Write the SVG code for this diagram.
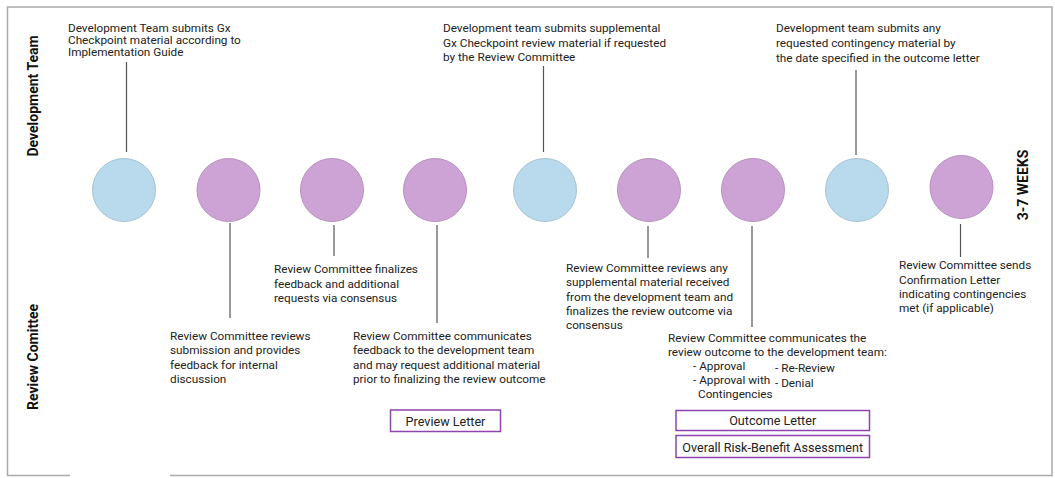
<svg xmlns="http://www.w3.org/2000/svg" width="1055" height="478" viewBox="0 0 1055 478">
<style>
text{font-family:Roboto,"Liberation Sans",sans-serif;font-size:11.75px;fill:#222}
.lane{font-weight:bold;font-size:14px;fill:#111}
.bt{font-size:12.6px}
.blue{fill:#B9DAEC;stroke:#A6C3D4;stroke-width:1}
.purple{fill:#CDA3D5;stroke:#B592BD;stroke-width:1}
.conn{stroke:#555;stroke-width:1.2;fill:none}
.box{fill:#fff;stroke:#8E44AD;stroke-width:1.5}
.frame{fill:none;stroke:#AAA;stroke-width:1.5}
</style>
<rect width="1055" height="478" fill="#fff"/>
<path class="frame" d="M70,475.5 H7.5 V7 H1052 V475.5 H170"/>
<g id="lane-dev"><text class="lane" transform="translate(38,96) rotate(-90)" text-anchor="middle">Development Team</text></g>
<g id="lane-rc"><text class="lane" transform="translate(38,357) rotate(-90)" text-anchor="middle">Review Comittee</text></g>
<g id="duration"><text class="lane" transform="translate(1028,185) rotate(-90)" text-anchor="middle">3-7 WEEKS</text></g>
<g id="connectors">
<line class="conn" x1="126.5" y1="62" x2="126.5" y2="152"/>
<line class="conn" x1="543.5" y1="66" x2="543.5" y2="152"/>
<line class="conn" x1="856" y1="70" x2="856" y2="155"/>
<line class="conn" x1="230" y1="223" x2="230" y2="318"/>
<line class="conn" x1="334" y1="225" x2="334" y2="256"/>
<line class="conn" x1="437" y1="225" x2="437" y2="323"/>
<line class="conn" x1="648" y1="226" x2="648" y2="258"/>
<line class="conn" x1="752" y1="226" x2="752" y2="327"/>
<line class="conn" x1="960.5" y1="224" x2="960.5" y2="257"/>
</g>
<g id="n1"><circle class="blue" cx="124" cy="190" r="31.5"/>
<text x="68" y="32">Development Team submits Gx</text><text x="68" y="44">Checkpoint material according to</text><text x="68" y="56">Implementation Guide</text></g>
<g id="n2"><circle class="purple" cx="228.5" cy="190" r="31.5"/>
<text x="170" y="340">Review Committee reviews</text><text x="170" y="354.3">submission and provides</text><text x="170" y="368.6">feedback for internal</text><text x="170" y="383">discussion</text></g>
<g id="n3"><circle class="purple" cx="332" cy="190" r="31.5"/>
<text x="274" y="273">Review Committee finalizes</text><text x="274" y="287.5">feedback and additional</text><text x="274" y="302">requests via consensus</text></g>
<g id="n4"><circle class="purple" cx="435" cy="190" r="31.5"/>
<text x="353" y="340">Review Committee communicates</text><text x="353" y="354.3">feedback to the development team</text><text x="353" y="368.6">and may request additional material</text><text x="353" y="383">prior to finalizing the review outcome</text></g>
<g id="preview-letter"><rect class="box" x="390.5" y="410" width="110" height="21.5"/>
<text class="bt" x="445.5" y="425.5" text-anchor="middle">Preview Letter</text></g>
<g id="n5"><circle class="blue" cx="545" cy="190" r="31.5"/>
<text x="443" y="32">Development team submits supplemental</text><text x="443" y="46.5">Gx Checkpoint review material if requested</text><text x="443" y="61">by the Review Committee</text></g>
<g id="n6"><circle class="purple" cx="649" cy="190" r="31.5"/>
<text x="566" y="272">Review Committee reviews any</text><text x="566" y="286.3">supplemental material received</text><text x="566" y="300.6">from the development team and</text><text x="566" y="315">finalizes the review outcome via</text><text x="566" y="329.3">consensus</text></g>
<g id="n7"><circle class="purple" cx="753" cy="190" r="31.5"/>
<text x="668" y="341.5">Review Committee communicates the</text><text x="668" y="355.7">review outcome to the development team:</text>
<text x="693" y="370">- Approval</text><text x="693" y="384">- Approval with</text><text x="698" y="398">Contingencies</text>
<text x="775" y="371.5">- Re-Review</text><text x="775" y="386.5">- Denial</text></g>
<g id="outcome-letter"><rect class="box" x="676" y="410.5" width="193.5" height="20"/>
<text class="bt" x="772.7" y="424.5" text-anchor="middle">Outcome Letter</text></g>
<g id="risk-benefit"><rect class="box" x="676" y="435.5" width="193.5" height="22"/>
<text class="bt" x="772.7" y="451.5" text-anchor="middle">Overall Risk-Benefit Assessment</text></g>
<g id="n8"><circle class="blue" cx="857" cy="190" r="31.5"/>
<text x="776" y="32">Development team submits any</text><text x="776" y="47">requested contingency material by</text><text x="776" y="61.5">the date specified in the outcome letter</text></g>
<g id="n9"><circle class="purple" cx="961.5" cy="187" r="31.5"/>
<text x="899" y="269">Review Committee sends</text><text x="899" y="283.5">Confirmation Letter</text><text x="899" y="298">indicating contingencies</text><text x="899" y="312.3">met (if applicable)</text></g>
</svg>
